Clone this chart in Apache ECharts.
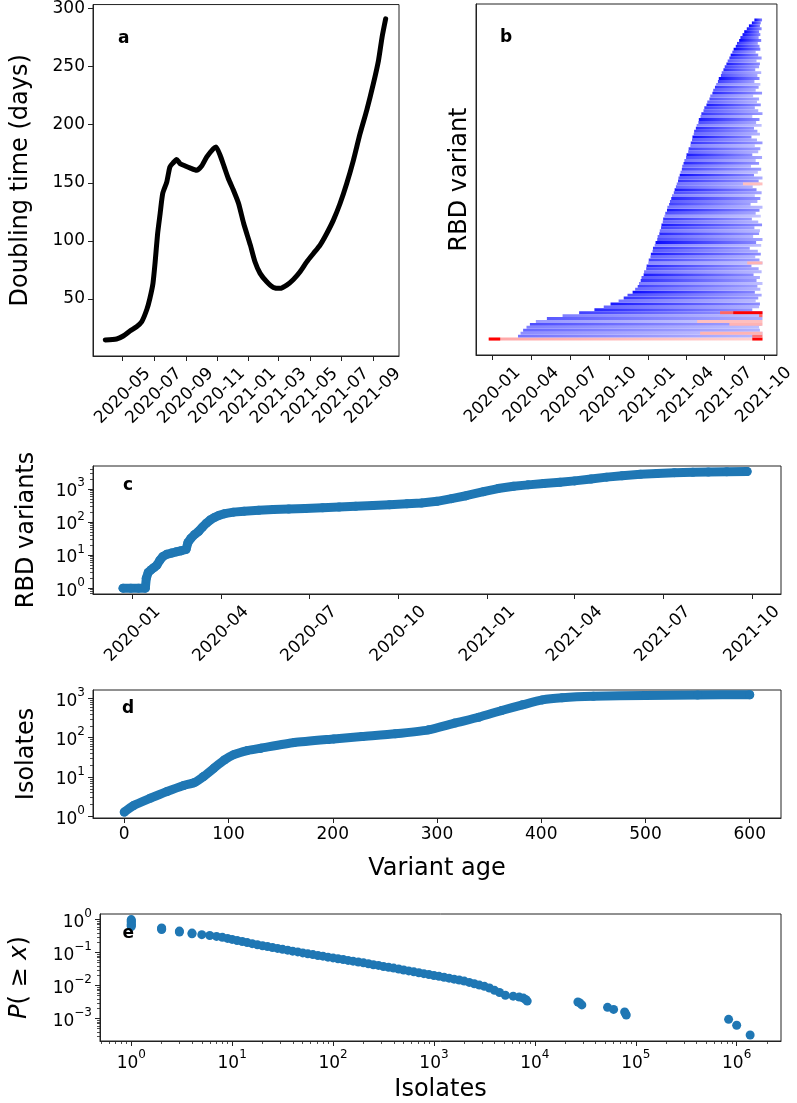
<!DOCTYPE html>
<html><head><meta charset="utf-8">
<script src="https://cdn.jsdelivr.net/npm/echarts@6/dist/echarts.min.js"></script>
<style>html,body{margin:0;padding:0;background:#fff}#c{width:797px;height:1103px}</style>
</head><body><div id="c"></div><script>
// ---------------- DATA ----------------
// Panel a: doubling time
const doublingDates = ['2020-03-28','2020-04-19','2020-05-02','2020-05-15','2020-05-28','2020-06-07','2020-06-17','2020-06-23','2020-06-29','2020-07-03','2020-07-08','2020-07-13','2020-07-18','2020-07-26','2020-08-01','2020-08-07','2020-08-14','2020-08-21','2020-08-31','2020-09-09','2020-09-22','2020-10-02','2020-10-12','2020-10-25','2020-10-30','2020-11-07','2020-11-15','2020-11-23','2020-12-03','2020-12-13','2020-12-23','2021-01-05','2021-01-14','2021-01-24','2021-02-06','2021-02-19','2021-03-04','2021-03-17','2021-03-30','2021-04-12','2021-04-25','2021-05-08','2021-05-21','2021-06-03','2021-06-16','2021-06-29','2021-07-12','2021-07-25','2021-08-07','2021-08-20','2021-09-02','2021-09-12','2021-09-19','2021-09-26'];
const doublingDays = [14.8,15.6,18.2,22.5,26.2,30.5,41,50.6,63.5,80.6,106,123.6,140.8,150.8,163.7,167,170,166.5,164.5,162.8,160.8,164.5,172.3,179.4,180.9,173.7,163.7,153.7,143.6,132.2,115,96.4,82.1,72.1,64.9,60,59.2,62,66.9,73.5,82,89.2,96.4,106.4,117.9,132.2,149.4,169.4,192.3,212.4,235.3,255.3,275.4,291.1];
const doublingTicks = ['2020-05-01','2020-07-01','2020-09-01','2020-11-01','2021-01-01','2021-03-01','2021-05-01','2021-07-01','2021-09-01'];
const doublingYTicks = [50,100,150,200,250,300];

// Panel b: RBD variant lines (days since 2020-01-01), tone >0 blue, <0 red
const variantStart = [-9,60,66,72,80,88,102,128,165,204,240,262,278,297,309,318,330,336,342,345,349,351,356,357,362,363,367,368,372,373,377,378,382,384,388,389,393,394,397,398,401,402,405,407,411,412,416,418,421,423,427,429,432,434,437,438,441,443,446,447,450,452,456,457,461,462,466,467,470,471,474,475,479,481,485,486,490,492,497,499,504,506,511,513,518,520,524,527,531,533,538,540,544,547,551,554,558,561,565,568,573,576,581,584,589,593,599,604,611,617];
const variantEnd = [636,633,636,630,628,634,632,636,633,636,612,628,630,620,626,634,618,631,624,636,622,630,615,634,627,610,636,629,619,632,625,606,633,621,636,614,628,630,617,635,626,611,632,620,629,636,608,624,631,618,634,622,613,630,627,636,616,625,633,609,628,620,635,612,626,631,618,636,623,610,630,624,616,634,621,629,612,636,626,618,632,623,628,614,635,620,627,631,617,629,624,633,619,628,630,622,634,626,620,631,629,625,633,627,631,628,634,630,632,635];
const variantTone = [-0.35,0.55,0.45,0.6,0.5,0.7,0.4,0.65,0.5,0.75,0.85,0.6,0.9,0.55,0.8,0.7,0.95,0.6,0.75,0.5,0.8,0.65,0.9,0.55,0.7,0.85,0.45,0.75,0.6,0.9,0.65,0.8,0.5,0.95,0.7,0.6,0.85,0.55,0.75,0.9,0.6,0.8,0.45,0.7,0.9,0.55,0.75,0.65,0.85,0.5,0.7,0.9,0.6,0.55,0.8,0.65,0.95,0.5,0.75,0.6,0.85,0.55,0.7,0.9,0.6,0.75,0.5,0.8,0.65,0.95,0.6,0.75,0.85,0.5,0.7,0.9,0.55,0.8,0.65,0.75,0.9,0.6,0.7,0.55,0.85,0.65,0.8,0.5,0.75,0.95,0.7,0.6,0.85,0.75,0.9,0.65,0.8,0.95,0.7,1.0,0.9,0.8,1.0,0.85,0.95,1.0,0.9,1.0,0.95,1.0];
// red segments: [line index, start day, end day, intensity]
const redSegments = [[0,-9,18,1.0],[0,612,636,1.0],[1,612,636,0.55],[2,489,636,0.3],[5,558,636,0.3],[6,482,636,0.25],[8,628,636,0.6],[9,536,567,0.6],[9,567,636,1.0],[26,600,636,0.3],[53,590,636,0.25]];
const quarterTicks = ['2020-01-01','2020-04-01','2020-07-01','2020-10-01','2021-01-01','2021-04-01','2021-07-01','2021-10-01'];

// Panel c: cumulative RBD variants
const rbdDates = ['2019-12-22','2019-12-30','2020-01-07','2020-01-14','2020-01-15','2020-01-17','2020-01-20','2020-01-23','2020-01-26','2020-01-29','2020-02-01','2020-02-05','2020-02-10','2020-02-15','2020-02-20','2020-02-25','2020-02-27','2020-03-01','2020-03-05','2020-03-09','2020-03-13','2020-03-17','2020-03-21','2020-03-25','2020-03-30','2020-04-05','2020-04-14','2020-04-25','2020-05-10','2020-05-25','2020-06-10','2020-06-27','2020-07-15','2020-08-01','2020-08-18','2020-09-05','2020-09-22','2020-10-10','2020-10-25','2020-11-10','2020-11-25','2020-12-10','2020-12-28','2021-01-12','2021-01-28','2021-02-12','2021-02-28','2021-03-17','2021-04-01','2021-04-18','2021-05-04','2021-05-20','2021-06-08','2021-06-25','2021-07-13','2021-08-01','2021-08-17','2021-09-05','2021-09-26'];
const rbdCounts = [1,1,1,1,2,3,3.6,4.2,5,7,9,10.5,11.5,12.5,13.5,14.8,24,32,42,52,70,92,115,135,158,178,198,212,225,236,246,256,268,282,298,315,332,352,375,420,505,620,820,1020,1200,1320,1440,1580,1740,1980,2260,2480,2740,2920,3080,3180,3240,3290,3330];

// Panel d: isolates vs variant age
const variantAge = [0,9,25,41,57,67,76,86,96,105,118,131,163,201,228,260,292,317,340,362,382,401,420,450,500,550,600];
const ageIsolates = [1.29,1.9,2.9,4.3,6.1,7.2,10.3,16.8,27,37,47,54,75,93,107,125,158,234,330,490,680,910,1030,1120,1180,1210,1230];
const ageTicks = [0,100,200,300,400,500,600];

// Panel e: CCDF of isolates
const ccdfX = [1,1,1,1,1,1,1,2,2,2,3,3,4,4,5,6,7,8,9,10,11.2,12.6,14.1,15.8,17.8,20,22.4,25.1,28.2,31.6,35.5,39.8,44.7,50.1,56.2,63.1,70.8,79.4,89.1,100,112,126,141,158,178,200,224,251,282,316,355,398,447,501,562,631,708,794,891,1000,1122,1259,1413,1585,1778,1995,2239,2512,2818,3162,3548,3981,4467,5100,6100,7000,7700,8100,8400,26700,27900,29200,52500,60300,77600,79400,80500,832000,1000000,1360000];
const ccdfP = [1.0,0.93,0.86,0.79,0.72,0.66,0.62,0.56,0.53,0.5,0.45,0.42,0.39,0.37,0.35,0.33,0.31,0.29,0.27,0.251,0.233,0.217,0.201,0.187,0.173,0.162,0.152,0.143,0.134,0.126,0.119,0.111,0.105,0.098,0.092,0.087,0.082,0.078,0.073,0.069,0.065,0.062,0.058,0.055,0.052,0.049,0.046,0.043,0.041,0.038,0.036,0.034,0.032,0.0297,0.0279,0.0262,0.0246,0.0231,0.0217,0.0203,0.0191,0.0179,0.0168,0.0157,0.0148,0.0137,0.0125,0.0114,0.0104,0.0095,0.0085,0.0072,0.0062,0.0051,0.0048,0.0045,0.0042,0.0038,0.0034,0.0032,0.003,0.0026,0.0022,0.0019,0.0016,0.0014,0.00128,0.00095,0.00063,0.00032];
const powTicksE_X = [1,10,100,1000,10000,100000,1000000];
const powTicksE_Y = [0.001,0.01,0.1,1];
const powTicksCD = [1,10,100,1000];

// ---------------- HELPERS ----------------
const DAY = 86400000;
const ts = s => { const p = s.split('-').map(Number); return Date.UTC(p[0], p[1]-1, p[2]); };
const T0 = Date.UTC(2020,0,1);
const fromDay = d => T0 + d*DAY;
const monthLabel = v => { const d = new Date(v); return d.getUTCFullYear() + '-' + String(d.getUTCMonth()+1).padStart(2,'0'); };
const supFmt = v => { const e = Math.round(Math.log10(v)); return '{b|10}{s|' + (e < 0 ? '\u2212' + (-e) : e) + '}'; };
const FONT = 'DejaVu Sans';
const supRich = {
  b:{fontSize:17,fontFamily:FONT,color:'#000',padding:[6,0,0,0],verticalAlign:'bottom'},
  s:{fontSize:12,fontFamily:FONT,color:'#000',verticalAlign:'top'}
};
function minorTicks(lo, hi){ const o=[]; for(let e=lo;e<=hi;e++) for(let k=2;k<=9;k++) o.push(+(k*Math.pow(10,e)).toPrecision(3)); return o; }
function toneColor(t){
  if (t >= 0){ const c = Math.round(255*(1-t)); return 'rgb('+c+','+c+',255)'; }
  const c = Math.round(255*(1+t)); return 'rgb(255,'+c+','+c+')';
}
const LINE = '#222';
function axis(o){
  const a = {
    splitLine:{show:false},
    axisLine:Object.assign({show:true,onZero:false,lineStyle:{color:LINE,width:1}}, o.axisLine||{}),
    axisTick:Object.assign({show:true,length:5,lineStyle:{color:LINE,width:1}}, o.axisTick||{}),
    axisLabel:Object.assign({color:'#000',fontSize:17,margin:8,fontFamily:FONT}, o.axisLabel||{}),
    nameTextStyle:Object.assign({fontSize:24,color:'#000',fontFamily:FONT}, o.nameTextStyle||{})
  };
  for (const k in o) if (!(k in a)) a[k] = o[k];
  return a;
}
const gridStyle = {show:true,borderColor:LINE,borderWidth:1,backgroundColor:'transparent'};
const BLUE = '#1f77b4';

const monthTicksA = doublingTicks.map(ts);
const quarterTs = quarterTicks.map(ts);
const rotLabel = {rotate:45,align:'center',verticalAlign:'middle',margin:40,formatter:monthLabel};

const option = {
  animation:false,
  backgroundColor:'#fff',
  textStyle:{fontFamily:FONT},
  grid:[
    Object.assign({left:93,top:4,width:306,height:352}, gridStyle),
    Object.assign({left:476,top:4,width:305,height:351}, gridStyle),
    Object.assign({left:93,top:466,width:688,height:128}, gridStyle),
    Object.assign({left:93,top:690,width:688,height:128}, gridStyle),
    Object.assign({left:93,top:914,width:688,height:129}, gridStyle)
  ],
  xAxis:[
    axis({type:'value',gridIndex:0,position:'bottom',min:ts('2020-03-04'),max:ts('2021-10-22'),
      axisTick:{customValues:monthTicksA},axisLabel:Object.assign({customValues:monthTicksA},rotLabel)}),
    axis({type:'value',gridIndex:1,position:'bottom',min:ts('2019-11-23'),max:ts('2021-11-01'),
      axisTick:{customValues:quarterTs},axisLabel:Object.assign({customValues:quarterTs},rotLabel)}),
    axis({type:'value',gridIndex:2,position:'bottom',min:ts('2019-11-21'),max:ts('2021-10-31'),
      axisTick:{customValues:quarterTs},axisLabel:Object.assign({customValues:quarterTs},rotLabel)}),
    axis({type:'value',gridIndex:3,position:'bottom',min:-30,max:630,name:'Variant age',nameLocation:'middle',nameGap:39,
      axisTick:{customValues:ageTicks},axisLabel:{customValues:ageTicks}}),
    axis({type:'log',logBase:10,gridIndex:4,position:'bottom',min:0.49,max:2.75e6,name:'Isolates',nameLocation:'middle',nameGap:37,
      axisTick:{customValues:powTicksE_X},axisLabel:{customValues:powTicksE_X,formatter:supFmt,rich:supRich}}),
    axis({type:'log',logBase:10,gridIndex:4,position:'bottom',offset:0,min:0.49,max:2.75e6,axisLine:{show:false},
      axisTick:{customValues:minorTicks(-1,6),length:3,lineStyle:{color:LINE,width:0.8}},axisLabel:{show:false}})
  ],
  yAxis:[
    axis({type:'value',gridIndex:0,position:'left',min:1,max:303.4,name:'Doubling time (days)',nameLocation:'middle',nameGap:60,
      axisTick:{customValues:doublingYTicks},axisLabel:{customValues:doublingYTicks}}),
    axis({type:'value',gridIndex:1,position:'left',min:-5.45,max:114.45,name:'RBD variant',nameLocation:'middle',nameGap:4,
      axisTick:{show:false},axisLabel:{show:false}}),
    axis({type:'log',logBase:10,gridIndex:2,position:'left',min:0.667,max:4900,name:'RBD variants',nameLocation:'middle',nameGap:54,
      axisTick:{customValues:powTicksCD},axisLabel:{customValues:powTicksCD,formatter:supFmt,rich:supRich}}),
    axis({type:'log',logBase:10,gridIndex:3,position:'left',min:0.912,max:1622,name:'Isolates',nameLocation:'middle',nameGap:54,
      axisTick:{customValues:powTicksCD},axisLabel:{customValues:powTicksCD,formatter:supFmt,rich:supRich}}),
    axis({type:'log',logBase:10,gridIndex:4,position:'left',min:2.1e-4,max:1.48,name:'{i|P}( \u2265 {i|x})',nameLocation:'middle',nameGap:68,
      nameTextStyle:{rich:{i:{fontStyle:'italic',fontSize:24,fontFamily:FONT,color:'#000'}}},
      axisTick:{customValues:powTicksE_Y},axisLabel:{customValues:powTicksE_Y,formatter:supFmt,rich:supRich}}),
    axis({type:'log',logBase:10,gridIndex:2,position:'left',offset:0,min:0.667,max:4900,axisLine:{show:false},
      axisTick:{customValues:minorTicks(-1,3),length:3,lineStyle:{color:LINE,width:0.8}},axisLabel:{show:false}}),
    axis({type:'log',logBase:10,gridIndex:3,position:'left',offset:0,min:0.912,max:1622,axisLine:{show:false},
      axisTick:{customValues:minorTicks(-1,3),length:3,lineStyle:{color:LINE,width:0.8}},axisLabel:{show:false}}),
    axis({type:'log',logBase:10,gridIndex:4,position:'left',offset:0,min:2.1e-4,max:1.48,axisLine:{show:false},
      axisTick:{customValues:minorTicks(-4,0),length:3,lineStyle:{color:LINE,width:0.8}},axisLabel:{show:false}})
  ],
  series:[
    {type:'line',xAxisIndex:0,yAxisIndex:0,smooth:0.2,showSymbol:false,
      lineStyle:{color:'#000',width:5,join:'round',cap:'round'},
      data:doublingDates.map((d,i)=>[ts(d),doublingDays[i]])},
    {type:'custom',xAxisIndex:1,yAxisIndex:1,clip:true,encode:{x:[0,1],y:2},
      data:variantStart.map((s,i)=>[fromDay(s),fromDay(variantEnd[i]),i,variantTone[i]]),
      renderItem:(params,api)=>{
        const y=api.value(2), t=api.value(3);
        const p0=api.coord([api.value(0),y]), p1=api.coord([api.value(1),y]);
        const h=api.size([0,1])[1];
        return {type:'rect',shape:{x:p0[0],y:p0[1]-h/2,width:p1[0]-p0[0],height:h},
          style:{fill:new echarts.graphic.LinearGradient(0,0,1,0,[{offset:0,color:toneColor(t)},{offset:1,color:toneColor(t*0.5)}])}};
      }},
    {type:'custom',xAxisIndex:1,yAxisIndex:1,clip:true,encode:{x:[0,1],y:2},z:3,
      data:redSegments.map(r=>[fromDay(r[1]),fromDay(r[2]),r[0],-r[3]]),
      renderItem:(params,api)=>{
        const y=api.value(2);
        const p0=api.coord([api.value(0),y]), p1=api.coord([api.value(1),y]);
        const h=api.size([0,1])[1];
        return {type:'rect',shape:{x:p0[0],y:p0[1]-h/2,width:p1[0]-p0[0],height:h},style:{fill:toneColor(api.value(3))}};
      }},
    {type:'line',xAxisIndex:2,yAxisIndex:2,showSymbol:true,symbol:'circle',symbolSize:9,
      itemStyle:{color:BLUE},lineStyle:{color:BLUE,width:9,join:'round',cap:'round'},
      data:rbdDates.map((d,i)=>[ts(d),rbdCounts[i]])},
    {type:'line',xAxisIndex:3,yAxisIndex:3,showSymbol:true,symbol:'circle',symbolSize:9,smooth:0.2,
      itemStyle:{color:BLUE},lineStyle:{color:BLUE,width:9,join:'round',cap:'round'},
      data:variantAge.map((a,i)=>[a,ageIsolates[i]])},
    {type:'scatter',xAxisIndex:4,yAxisIndex:4,symbol:'circle',symbolSize:9,
      itemStyle:{color:BLUE,opacity:1},
      data:ccdfX.map((x,i)=>[x,ccdfP[i]])}
  ],
  graphic:[
    {type:'text',x:118,y:39,z:100,style:{text:'a',font:'bold 17px "DejaVu Sans"',fill:'#000',verticalAlign:'middle',textVerticalAlign:'middle'}},
    {type:'text',x:500,y:38,z:100,style:{text:'b',font:'bold 17px "DejaVu Sans"',fill:'#000',verticalAlign:'middle',textVerticalAlign:'middle'}},
    {type:'text',x:123,y:485.5,z:100,style:{text:'c',font:'bold 17px "DejaVu Sans"',fill:'#000',verticalAlign:'middle',textVerticalAlign:'middle'}},
    {type:'text',x:122,y:709,z:100,style:{text:'d',font:'bold 17px "DejaVu Sans"',fill:'#000',verticalAlign:'middle',textVerticalAlign:'middle'}},
    {type:'text',x:122.5,y:934,z:100,style:{text:'e',font:'bold 17px "DejaVu Sans"',fill:'#000',verticalAlign:'middle',textVerticalAlign:'middle'}}
  ]
};
const chart = echarts.init(document.getElementById('c'), null, {renderer:'canvas'});
chart.setOption(option);
</script></body></html>
